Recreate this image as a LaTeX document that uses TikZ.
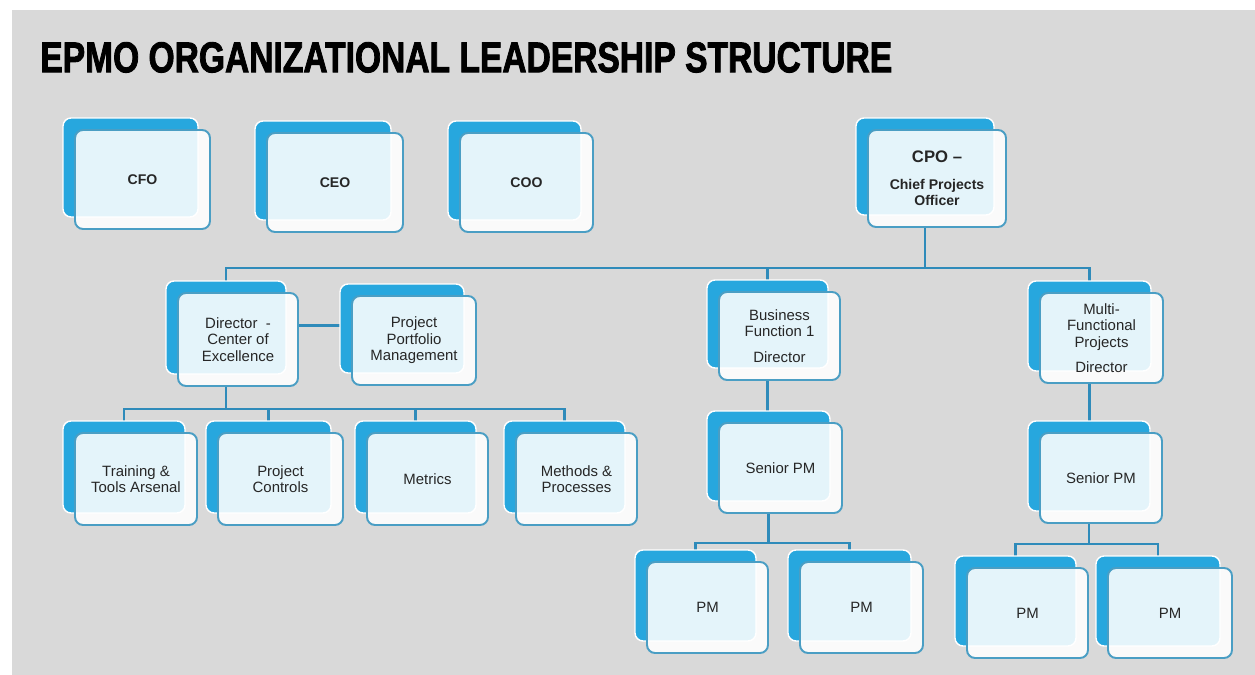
\documentclass[tikz,border=0pt]{standalone}
\usepackage{fontspec}
\setmainfont{Liberation Sans}
\newfontfamily\titlefont[FakeBold=2.2]{Liberation Sans Bold}
\usetikzlibrary{calc,backgrounds}

\definecolor{bggray}{HTML}{D9D9D9}
\definecolor{cardblue}{HTML}{27A7DE}
\definecolor{cardedge}{HTML}{4A9EC4}
\definecolor{linkblue}{HTML}{2F8BBA}
\definecolor{inkgray}{HTML}{262626}

\newcommand\cardfont{\fontsize{8.5}{9.4}\selectfont}
\newcommand\headfont{\fontsize{8}{9.2}\selectfont\bfseries}

\tikzset{
  card/.style={rounded corners=0.16cm, draw=cardedge, line width=1.1pt,
    fill=white, fill opacity=0.88, text opacity=1, text=inkgray,
    align=center, inner sep=0pt, font=\cardfont,
    preaction={fill=cardblue, fill opacity=1, draw=white, line width=0.8pt,
      transform canvas={shift={(-0.24cm,0.24cm)}}}},
  sz/.style 2 args={minimum width=#1cm, minimum height=#2cm},
  link/.style={draw=linkblue, line width=1.4pt},
}

\begin{document}
\begin{tikzpicture}[x=0.02cm, y=-0.02cm]
  \useasboundingbox (0,0) rectangle (1255,675);

  % title
  \node[anchor=south west, inner sep=0pt] (title) at (40,73)
    {\resizebox{17.04cm}{0.6cm}{\titlefont EPMO ORGANIZATIONAL LEADERSHIP STRUCTURE}};

  % executives
  \node[card, sz={2.70}{1.98}, font=\headfont] (cfo) at (142.5,179.5) {CFO};
  \node[card, sz={2.72}{1.98}, font=\headfont] (ceo) at (335,182.5) {CEO};
  \node[card, sz={2.66}{1.98}, font=\headfont] (coo) at (526.5,182.5) {COO};
  \node[card, sz={2.76}{1.94}, font=\headfont] (cpo) at (937,178.5)
    {{\fontsize{9.5}{10}\selectfont CPO --}\\[6pt]Chief Projects\\Officer};

  % directors
  \node[card, sz={2.40}{1.86}] (coe) at (238,339.5) {Director\ \ -\\Center of\\Excellence};
  \node[card, sz={2.48}{1.78}] (ppm) at (414,340.5) {Project\\Portfolio\\Management};
  \node[card, sz={2.42}{1.76}] (bf) at (779.5,336) {Business\\Function 1\\[5pt]Director};
  \node[card, sz={2.46}{1.80}] (mf) at (1101.5,338) {Multi-\\Functional\\Projects\\[5pt]Director};

  % centre of excellence units
  \node[card, sz={2.44}{1.84}] (trn) at (136,479) {Training \&\\Tools Arsenal};
  \node[card, sz={2.50}{1.84}] (ctl) at (280.5,479) {Project\\Controls};
  \node[card, sz={2.42}{1.84}] (met) at (427.5,479) {Metrics};
  \node[card, sz={2.42}{1.84}] (mth) at (576.5,479) {Methods \&\\Processes};

  % senior project managers
  \node[card, sz={2.46}{1.80}] (spmA) at (780.5,468) {Senior PM};
  \node[card, sz={2.44}{1.80}] (spmB) at (1101,478) {Senior PM};

  % project managers
  \node[card, sz={2.42}{1.82}] (pmA) at (707.5,607.5) {PM};
  \node[card, sz={2.46}{1.82}] (pmB) at (861.5,607.5) {PM};
  \node[card, sz={2.42}{1.80}] (pmC) at (1027.5,613) {PM};
  \node[card, sz={2.48}{1.80}] (pmD) at (1170,613) {PM};

  % attachment points: centre line of the blue back card
  \coordinate (cpoS) at ($(cpo.south)+(-12,0)$);
  \coordinate (coeN) at ($(coe.north)+(-12,0)$);
  \coordinate (coeS) at ($(coe.south)+(-12,0)$);
  \coordinate (bfN)  at ($(bf.north)+(-12,0)$);
  \coordinate (bfS)  at ($(bf.south)+(-12,0)$);
  \coordinate (mfN)  at ($(mf.north)+(-12,0)$);
  \coordinate (mfS)  at ($(mf.south)+(-12,0)$);
  \coordinate (trnN) at ($(trn.north)+(-12,0)$);
  \coordinate (ctlN) at ($(ctl.north)+(-12,0)$);
  \coordinate (metN) at ($(met.north)+(-12,0)$);
  \coordinate (mthN) at ($(mth.north)+(-12,0)$);
  \coordinate (spmAS) at ($(spmA.south)+(-12,0)$);
  \coordinate (spmBS) at ($(spmB.south)+(-12,0)$);
  \coordinate (pmAN) at ($(pmA.north)+(-12,0)$);
  \coordinate (pmBN) at ($(pmB.north)+(-12,0)$);
  \coordinate (pmCN) at ($(pmC.north)+(-12,0)$);
  \coordinate (pmDN) at ($(pmD.north)+(-12,0)$);

  % bus levels
  \coordinate (busTop) at (0,268);
  \coordinate (busMid) at (0,409);
  \coordinate (busLowA) at (0,543);
  \coordinate (busLowB) at (0,544);

  \begin{pgfonlayer}{background}
    \fill[white] (0,0) rectangle (1255,675);
    \fill[bggray] (12,10) rectangle (1255,675);

    % CPO to directors
    \draw[link] (cpoS) -- (cpoS |- busTop);
    \draw[link] (coeN) -- (coeN |- busTop) -- (mfN |- busTop) -- (mfN);
    \draw[link] (bfN |- busTop) -- (bfN);

    % director to portfolio management
    \draw[link] ($(coe.east)+(0,-14)$) -- ($(ppm.west)+(0,-15)$);

    % centre of excellence units
    \draw[link] (coeS) -- (coeS |- busMid);
    \draw[link] (trnN) -- (trnN |- busMid) -- (mthN |- busMid) -- (mthN);
    \draw[link] (ctlN |- busMid) -- (ctlN);
    \draw[link] (metN |- busMid) -- (metN);

    % business function branch
    \draw[link] (bfS) -- (bfS |- spmA.north);
    \draw[link] (spmAS) -- (spmAS |- busLowA);
    \draw[link] (pmAN) -- (pmAN |- busLowA) -- (pmBN |- busLowA) -- (pmBN);

    % multi-functional branch
    \draw[link] (mfS) -- (mfS |- spmB.north);
    \draw[link] (spmBS) -- (spmBS |- busLowB);
    \draw[link] (pmCN) -- (pmCN |- busLowB) -- (pmDN |- busLowB) -- (pmDN);
  \end{pgfonlayer}
\end{tikzpicture}
\end{document}
